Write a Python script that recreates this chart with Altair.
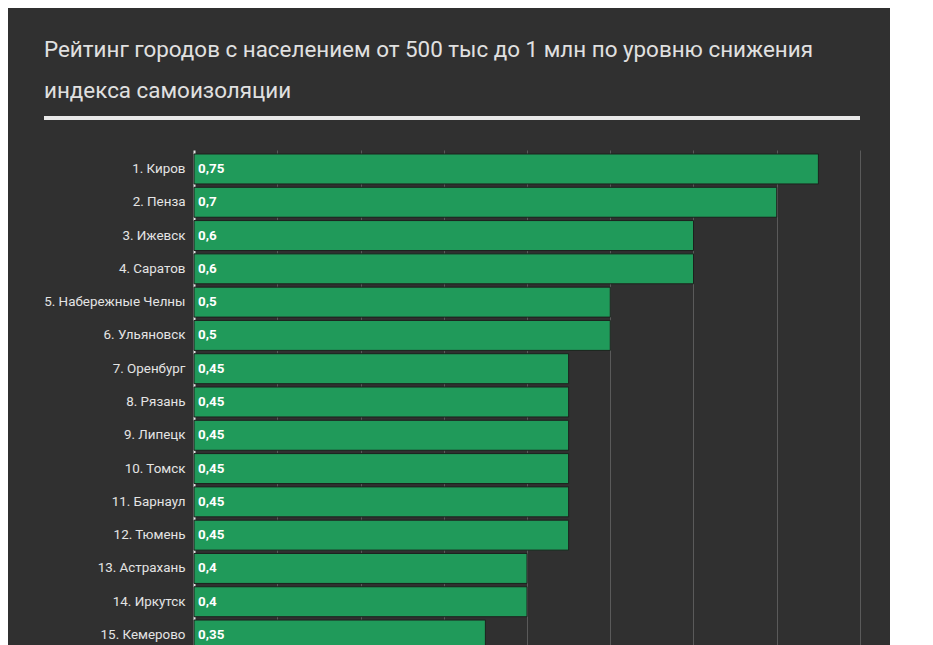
import altair as alt
import pandas as pd

cities = [
    "1. Киров", "2. Пенза", "3. Ижевск", "4. Саратов", "5. Набережные Челны",
    "6. Ульяновск", "7. Оренбург", "8. Рязань", "9. Липецк", "10. Томск",
    "11. Барнаул", "12. Тюмень", "13. Астрахань", "14. Иркутск", "15. Кемерово",
]
values = [0.75, 0.7, 0.6, 0.6, 0.5, 0.5, 0.45, 0.45, 0.45, 0.45, 0.45, 0.45, 0.4, 0.4, 0.35]
grid_values = [0.1, 0.2, 0.3, 0.4, 0.5, 0.6, 0.7, 0.8]
title_text = ("Рейтинг городов с населением от 500 тыс до 1 млн по уровню снижения\n"
              "индекса самоизоляции")

df = pd.DataFrame({"city": cities, "value": values})
df["label"] = df["value"].map(lambda v: f"{v:g}".replace(".", ","))

FONT = "Roboto"
BG = "#303030"

x_enc = alt.X("value:Q",
              scale=alt.Scale(domain=[0, 0.8], nice=False, zero=True),
              axis=alt.Axis(values=grid_values, labels=False, ticks=False, domain=False,
                            grid=True, gridColor="#5a5a5a", gridWidth=1, title=None))
y_enc = alt.Y("city:N", sort=cities,
              scale=alt.Scale(paddingInner=0.1, paddingOuter=0.12),
              axis=alt.Axis(title=None, ticks=False, domain=True, domainColor="#e6e6e6",
                            domainWidth=2, labelColor="#e4e4e4", labelFont=FONT,
                            labelFontSize=13.4, labelPadding=9, grid=False))

base = alt.Chart(df)

bars = base.mark_bar(color="#209a5a", stroke="#1c211d", strokeWidth=1).encode(x=x_enc, y=y_enc)

labels = base.mark_text(align="left", baseline="middle", dx=4, font=FONT, fontSize=13.4,
                        fontWeight="bold", color="#ffffff").encode(
    x=alt.datum(0), y=alt.Y("city:N", sort=cities), text="label:N")

title = alt.Chart(pd.DataFrame({"t": [title_text]})).mark_text(
    align="left", baseline="alphabetic", font=FONT, fontSize=22.4, lineHeight=41,
    lineBreak="\n", color="#e0e0e0").encode(
    x=alt.value(-150), y=alt.value(-93), text="t:N")

rule = alt.Chart(pd.DataFrame({"a": [0]})).mark_rule(color="#e8e8e8", strokeWidth=4).encode(
    x=alt.value(-150), x2=alt.value(666), y=alt.value(-32))

chart = alt.layer(bars, labels, title, rule).properties(
    width=666, height=504,
    autosize=alt.AutoSizeParams(type="none"),
    padding={"left": 186, "top": 142, "right": 30, "bottom": 10},
    background=BG,
).configure_view(stroke=None)

chart.save("out.html", embed_options={"renderer": "svg", "actions": False})
